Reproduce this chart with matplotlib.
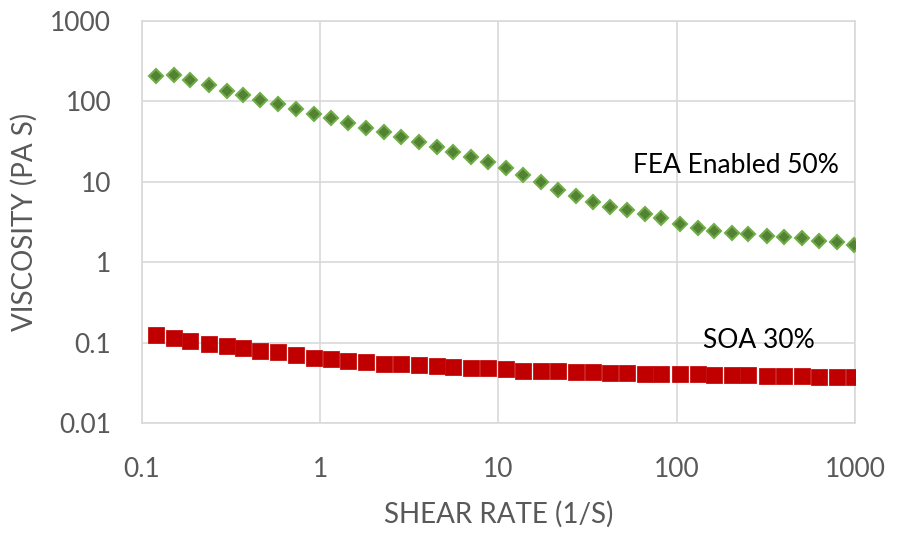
#!/usr/bin/env python3

import matplotlib
matplotlib.use("Agg")
import numpy as np
import matplotlib.pyplot as plt

# shear rate (1/s), roughly 10 points per decade
shear_rate = [0.121, 0.152, 0.187, 0.237, 0.299, 0.372, 0.463, 0.578, 0.73, 0.92,
              1.15, 1.43, 1.82, 2.27, 2.86, 3.57, 4.5, 5.6, 7.0, 8.7,
              11.1, 13.7, 17.3, 21.5, 27.2, 33.9, 42.2, 52.5, 66, 82,
              104, 131, 161, 204, 251, 320, 398, 502, 630, 794, 985]

fea_50 = [204, 209, 182, 158, 133, 118, 103, 92, 80, 69,
          61.6, 53.5, 46.4, 41.5, 35.9, 31.1, 27, 23.4, 20.3, 17.6,
          14.9, 12.2, 10.0, 7.96, 6.7, 5.66, 4.9, 4.5, 4.0, 3.5,
          2.95, 2.7, 2.48, 2.28, 2.22, 2.09, 2.04, 1.98, 1.82, 1.77, 1.62]

soa_30 = [0.126, 0.115, 0.106, 0.097, 0.092, 0.087, 0.080, 0.077, 0.071, 0.065,
          0.063, 0.060, 0.057, 0.055, 0.055, 0.053, 0.051, 0.050, 0.049, 0.048,
          0.047, 0.045, 0.0445, 0.044, 0.0435, 0.043, 0.0425, 0.042, 0.0415, 0.041,
          0.041, 0.0405, 0.040, 0.040, 0.0395, 0.039, 0.039, 0.0385, 0.038, 0.038, 0.0375]

x_ticks = [0.1, 1, 10, 100, 1000]
x_tick_labels = ["0.1", "1", "10", "100", "1000"]
y_ticks = [0.01, 0.1, 1, 10, 100, 1000]
y_tick_labels = ["0.01", "0.1", "1", "10", "100", "1000"]

series_labels = ["FEA Enabled 50%", "SOA 30%"]
label_pos = [(56.7, 12.9), (140, 0.0867)]

plt.rcParams["font.family"] = ["Lato", "DejaVu Sans"]

grey = "#595959"
grid_col = "#D9D9D9"

fig = plt.figure(figsize=(8.97, 5.34), dpi=100)
ax = fig.add_axes([0.158, 0.2073, 0.7952, 0.7539])

ax.plot(shear_rate, fea_50, linestyle="none", marker="D", markersize=7.5,
        markerfacecolor="#548235", markeredgecolor="#70AD47", markeredgewidth=1.5,
        zorder=3)
ax.plot(shear_rate, soa_30, linestyle="none", marker="s", markersize=12,
        markerfacecolor="#C00000", markeredgecolor="#C41010", markeredgewidth=0.6,
        zorder=3)

ax.set_xscale("log")
ax.set_yscale("log")
ax.set_xlim(0.1, 1000)
ax.set_ylim(0.01, 1000)

ax.set_xticks(x_ticks)
ax.set_xticklabels(x_tick_labels)
ax.set_yticks(y_ticks)
ax.set_yticklabels(y_tick_labels)
ax.minorticks_off()

ax.tick_params(axis="both", length=0, labelsize=19, colors=grey)
ax.tick_params(axis="x", pad=24)
ax.tick_params(axis="y", pad=22)

ax.grid(True, color=grid_col, linewidth=1.2)
for sp in ax.spines.values():
    sp.set_color(grid_col)
    sp.set_linewidth(1.2)

ax.set_xlabel("SHEAR RATE (1/S)", fontsize=20, color=grey, labelpad=14)
ax.set_ylabel("VISCOSITY (PA S)", fontsize=20, color=grey, labelpad=9)

for txt, (tx, ty) in zip(series_labels, label_pos):
    ax.text(tx, ty, txt, fontsize=19, color="black", ha="left", va="baseline",
            zorder=4)

plt.savefig("out.png", dpi=100)
